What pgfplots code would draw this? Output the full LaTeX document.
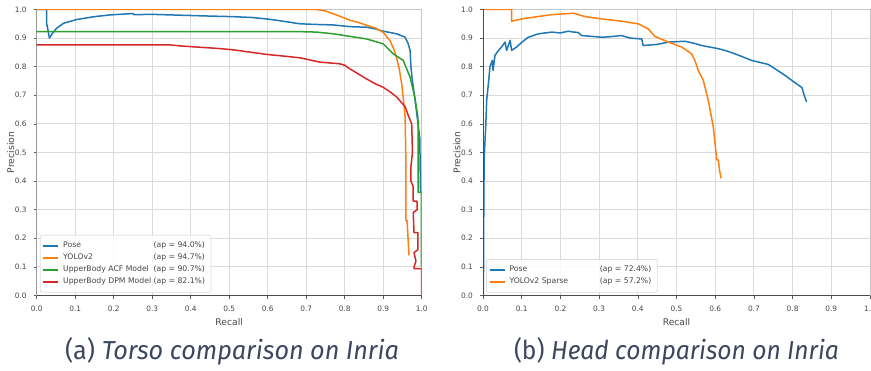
\documentclass[border=0pt]{standalone}
\usepackage{pgfplots}
\pgfplotsset{compat=1.18}
\usepackage{fontspec}
\setmainfont{DejaVu Sans}
\newfontfamily\capfont{Fira Sans}
\definecolor{mblue}{HTML}{1F77B4}
\definecolor{morange}{HTML}{FF7F0E}
\definecolor{mgreen}{HTML}{2CA02C}
\definecolor{mred}{HTML}{D62728}
\definecolor{captxt}{RGB}{60,70,95}
\definecolor{txt}{RGB}{70,70,70}
\pgfplotsset{
  prstyle/.style={
    scale only axis, xmin=0, xmax=1, ymin=0, ymax=1,
    xtick={0,0.1,...,1.0}, ytick={0,0.1,...,1.0},
    xticklabel style={/pgf/number format/.cd, fixed, fixed zerofill, precision=1, assume math mode=true},
    yticklabel style={/pgf/number format/.cd, fixed, fixed zerofill, precision=1, assume math mode=true},
    ticklabel style={font=\fontsize{3.7}{4}\selectfont, text=txt},
    tick align=outside, xtick pos=bottom, ytick pos=left,
    major tick length=1.5pt, tick style={gray!70!black, line width=0.3pt},
    grid=major, major grid style={gray!28, line width=0.45pt},
    axis line style={gray!45, line width=0.4pt},
    label style={font=\fontsize{4.6}{5}\selectfont, text=txt},
    xlabel=Recall, ylabel=Precision,
    xlabel style={yshift=3pt}, ylabel style={yshift=-6.5pt},
    legend cell align=left,
    legend style={at={(0.008,0.01)}, anchor=south west, font=\fontsize{3.85}{4.6}\selectfont, text=txt,
      draw=gray!25, rounded corners=1pt, fill=white, fill opacity=0.85, text opacity=1,
      inner sep=1pt, row sep=-2.4pt},
    legend image code/.code={\draw[#1, line width=1pt] (0pt,0pt) -- (7.5pt,0pt);},
    every axis plot/.append style={line width=0.75pt, line join=round},
  }
}
\begin{document}
\begin{tikzpicture}
\path[use as bounding box] (0,0) rectangle (435.5pt,185pt);
% ---------- (a) ----------
\begin{axis}[prstyle, at={(18.35pt,37.25pt)}, anchor=south west, width=192.5pt, height=143pt]
\addplot[mblue] coordinates {(0,1) (0.026,1) (0.026,0.95) (0.029,0.93) (0.033,0.90) (0.04,0.915) (0.052,0.935) (0.07,0.952) (0.104,0.965) (0.15,0.975) (0.19,0.981) (0.251,0.986) (0.252,0.982) (0.3,0.983) (0.4,0.979) (0.45,0.977) (0.51,0.975) (0.56,0.972) (0.597,0.967) (0.62,0.963) (0.64,0.959) (0.684,0.95) (0.72,0.948) (0.77,0.946) (0.814,0.94) (0.857,0.938) (0.88,0.932) (0.9,0.924) (0.935,0.915) (0.957,0.903) (0.965,0.88) (0.97,0.856) (0.972,0.80) (0.975,0.76) (0.985,0.66) (0.995,0.55) (0.997,0.36)};
\addlegendentry{\makebox[11.74em][l]{Pose}(ap = 94.0\%)}
\addplot[morange] coordinates {(0,1) (0.727,1) (0.75,0.995) (0.77,0.985) (0.79,0.975) (0.814,0.962) (0.835,0.955) (0.857,0.945) (0.88,0.935) (0.9,0.92) (0.918,0.89) (0.928,0.86) (0.935,0.83) (0.942,0.79) (0.948,0.74) (0.953,0.68) (0.957,0.62) (0.959,0.47) (0.959,0.262) (0.962,0.262) (0.967,0.14)};
\addlegendentry{\makebox[11.74em][l]{YOLOv2}(ap = 94.7\%)}
\addplot[mgreen] coordinates {(0,0.923) (0.67,0.923) (0.727,0.921) (0.77,0.915) (0.814,0.906) (0.857,0.897) (0.9,0.88) (0.926,0.845) (0.952,0.822) (0.97,0.763) (0.982,0.694) (0.99,0.625) (0.991,0.59) (0.991,0.361) (0.999,0.361) (0.999,0.1)};
\addlegendentry{\makebox[11.74em][l]{UpperBody ACF Model}(ap = 90.7\%)}
\addplot[mred] coordinates {(0,0.876) (0.346,0.876) (0.38,0.872) (0.424,0.868) (0.47,0.864) (0.51,0.859) (0.56,0.85) (0.597,0.843) (0.65,0.836) (0.684,0.831) (0.736,0.816) (0.788,0.81) (0.8,0.805) (0.814,0.792) (0.835,0.775) (0.857,0.757) (0.88,0.74) (0.9,0.728) (0.92,0.71) (0.935,0.694) (0.957,0.66) (0.965,0.63) (0.974,0.6) (0.976,0.5) (0.972,0.45) (0.972,0.40) (0.978,0.38) (0.978,0.33) (0.988,0.33) (0.988,0.30) (0.978,0.29) (0.98,0.22) (0.99,0.22) (0.99,0.16) (0.98,0.15) (0.985,0.12) (0.98,0.10) (0.98,0.094) (1.0,0.094) (1.0,0.0)};
\addlegendentry{\makebox[11.74em][l]{UpperBody DPM Model}(ap = 82.1\%)}
\draw[gray!60!black, line width=0.5pt] (rel axis cs:0,1) -- (rel axis cs:0,0) -- (rel axis cs:1,0);
\end{axis}
% ---------- (b) ----------
\begin{axis}[prstyle, at={(241.5pt,37.25pt)}, anchor=south west, width=193.5pt, height=143pt]
\addplot[mblue] coordinates {(0.001,0) (0.002,0.3) (0.003,0.48) (0.007,0.59) (0.0095,0.683) (0.014,0.741) (0.018,0.80) (0.024,0.822) (0.026,0.787) (0.031,0.84) (0.04,0.857) (0.048,0.869) (0.057,0.886) (0.061,0.857) (0.07,0.892) (0.074,0.857) (0.087,0.869) (0.1,0.885) (0.117,0.903) (0.143,0.915) (0.178,0.921) (0.2,0.918) (0.22,0.924) (0.234,0.921) (0.245,0.92) (0.255,0.909) (0.307,0.903) (0.33,0.905) (0.358,0.909) (0.38,0.9) (0.41,0.897) (0.414,0.874) (0.45,0.878) (0.479,0.886) (0.522,0.889) (0.545,0.882) (0.565,0.874) (0.608,0.863) (0.63,0.855) (0.651,0.845) (0.67,0.835) (0.694,0.822) (0.737,0.808) (0.76,0.788) (0.78,0.77) (0.8,0.75) (0.824,0.727) (0.83,0.70) (0.836,0.677)};
\addlegendentry{\makebox[11.74em][l]{Pose}(ap = 72.4\%)}
\addplot[morange] coordinates {(0,1) (0.074,1) (0.074,0.959) (0.1,0.967) (0.14,0.975) (0.178,0.982) (0.234,0.987) (0.264,0.975) (0.307,0.967) (0.358,0.959) (0.401,0.95) (0.427,0.932) (0.444,0.906) (0.479,0.886) (0.513,0.869) (0.539,0.845) (0.548,0.82) (0.556,0.787) (0.569,0.753) (0.582,0.683) (0.595,0.59) (0.604,0.474) (0.608,0.474) (0.611,0.44) (0.615,0.41)};
\addlegendentry{\makebox[11.74em][l]{YOLOv2 Sparse}(ap = 57.2\%)}
\draw[gray!60!black, line width=0.5pt] (rel axis cs:0,1) -- (rel axis cs:0,0) -- (rel axis cs:1,0);
\end{axis}
% ---------- captions ----------
\node[anchor=base, text=captxt, inner sep=0pt] at (116pt,5.5pt) {\resizebox{167pt}{\height}{\capfont\fontsize{13}{14}\selectfont(a) \itshape Torso comparison on Inria}};
\node[anchor=base, text=captxt, inner sep=0pt] at (338.25pt,5.5pt) {\resizebox{162.5pt}{\height}{\capfont\fontsize{13}{14}\selectfont(b) \itshape Head comparison on Inria}};
\end{tikzpicture}
\end{document}
